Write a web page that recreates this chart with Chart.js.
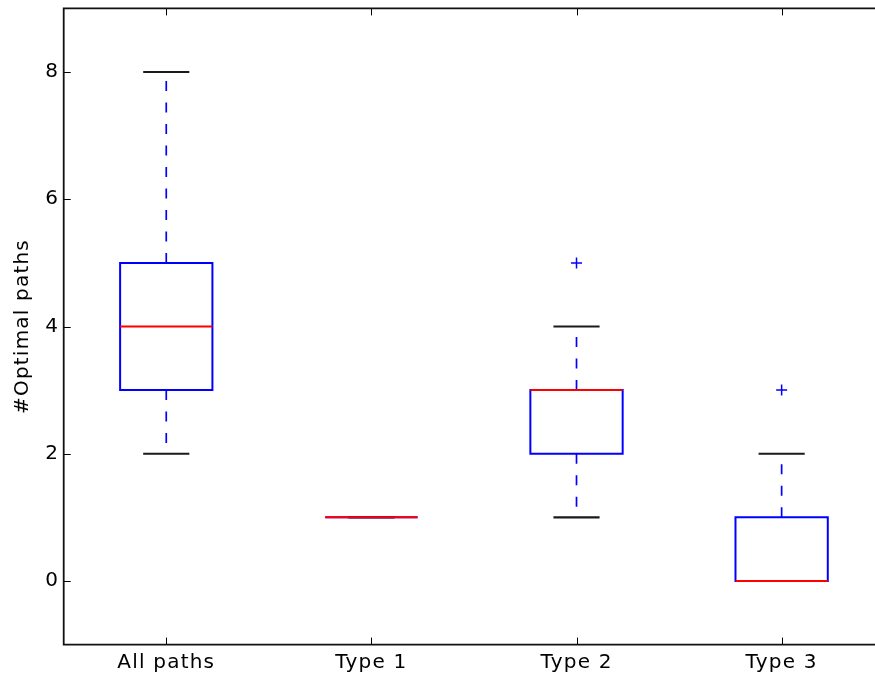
<!DOCTYPE html>
<html>
<head>
<meta charset="utf-8">
<script src="https://cdn.jsdelivr.net/npm/chart.js@4/dist/chart.umd.min.js"></script>
<style>
  html, body { margin: 0; padding: 0; background: #fff; overflow: hidden; }
  #wrap { width: 900px; height: 680px; position: relative; }
</style>
</head>
<body>
<div id="wrap"><canvas id="c"></canvas></div>
<script>
// Box-plot summary per group
const categories  = ['All paths', 'Type 1', 'Type 2', 'Type 3'];
const whiskerLow  = [2, 1, 1, 0];
const q1          = [3, 1, 2, 0];
const medians     = [4, 1, 3, 0];
const q3          = [5, 1, 3, 1];
const whiskerHigh = [8, 1, 4, 2];
// Fliers: group position (1-based) and value
const flierGroup  = [3, 4];
const flierValue  = [5, 3];
const yTicks      = [0, 2, 4, 6, 8];

const BOX_WIDTH = 0.45;
const CAP_WIDTH = BOX_WIDTH / 2;
const FONT = { family: 'DejaVu Sans', size: 20 };

// Box, whiskers, caps and medians drawn through the chart scales
const boxPlotPlugin = {
  id: 'boxPlot',
  beforeDraw(chart) {
    chart.ctx.letterSpacing = '1.2px';
  },
  beforeDatasetsDraw(chart) {
    const { ctx, chartArea: a, scales: { x, y } } = chart;
    ctx.save();
    ctx.beginPath();
    ctx.rect(a.left, a.top, a.right - a.left, a.bottom - a.top);
    ctx.clip();
    ctx.lineCap = 'butt';
    categories.forEach((_, i) => {
      const pos = i + 1;
      const xc = x.getPixelForValue(pos);
      const xb0 = x.getPixelForValue(pos - BOX_WIDTH / 2);
      const xb1 = x.getPixelForValue(pos + BOX_WIDTH / 2);
      const xc0 = x.getPixelForValue(pos - CAP_WIDTH / 2);
      const xc1 = x.getPixelForValue(pos + CAP_WIDTH / 2);
      const yLo = y.getPixelForValue(whiskerLow[i]);
      const yQ1 = y.getPixelForValue(q1[i]);
      const yMed = y.getPixelForValue(medians[i]);
      const yQ3 = y.getPixelForValue(q3[i]);
      const yHi = y.getPixelForValue(whiskerHigh[i]);

      // whiskers (dashed, drawn outward from the box)
      ctx.strokeStyle = '#0000ff';
      ctx.lineWidth = 1.7;
      ctx.setLineDash([10, 11.5]);
      ctx.beginPath();
      ctx.moveTo(xc, yQ1); ctx.lineTo(xc, yLo);
      ctx.moveTo(xc, yQ3); ctx.lineTo(xc, yHi);
      ctx.stroke();
      ctx.setLineDash([]);

      // caps
      ctx.strokeStyle = '#1a1a1a';
      ctx.lineWidth = 2.2;
      ctx.beginPath();
      ctx.moveTo(xc0, yLo); ctx.lineTo(xc1, yLo);
      ctx.moveTo(xc0, yHi); ctx.lineTo(xc1, yHi);
      ctx.stroke();

      // box
      ctx.strokeStyle = '#0000ff';
      ctx.lineWidth = 2;
      ctx.beginPath();
      ctx.rect(xb0, yQ3, xb1 - xb0, yQ1 - yQ3);
      ctx.stroke();

      // median
      ctx.strokeStyle = '#ff0000';
      ctx.lineWidth = 2;
      ctx.beginPath();
      ctx.moveTo(xb0, yMed); ctx.lineTo(xb1, yMed);
      ctx.stroke();
    });
    ctx.restore();
  },
  afterDatasetsDraw(chart) {
    const { ctx, chartArea: a, scales: { x, y } } = chart;
    ctx.save();
    ctx.strokeStyle = '#000';
    // inward tick marks
    ctx.lineWidth = 1;
    ctx.beginPath();
    yTicks.forEach(v => {
      const py = Math.round(y.getPixelForValue(v)) + 0.5;
      ctx.moveTo(a.left, py); ctx.lineTo(a.left + 7, py);
    });
    categories.forEach((_, i) => {
      const px = Math.round(x.getPixelForValue(i + 1)) + 0.5;
      ctx.moveTo(px, a.bottom); ctx.lineTo(px, a.bottom - 7);
      ctx.moveTo(px, a.top); ctx.lineTo(px, a.top + 7);
    });
    ctx.stroke();
    // axes frame (left, top, bottom)
    ctx.strokeStyle = '#111';
    ctx.lineWidth = 1.8;
    ctx.beginPath();
    ctx.moveTo(a.right + 2, a.top);
    ctx.lineTo(a.left, a.top);
    ctx.lineTo(a.left, a.bottom);
    ctx.lineTo(a.right + 2, a.bottom);
    ctx.stroke();
    ctx.restore();
  }
};

// keep the plot area exactly where the layout padding puts it
const noScalePadding = s => {
  s.paddingTop = 0; s.paddingBottom = 0; s.paddingLeft = 0; s.paddingRight = 0;
};

new Chart(document.getElementById('c'), {
  type: 'scatter',
  data: {
    datasets: [{
      label: 'fliers',
      data: flierGroup.map((g, i) => ({ x: g, y: flierValue[i] })),
      pointStyle: 'cross',
      pointRadius: 5.5,
      pointHoverRadius: 5.5,
      borderColor: '#0000ff',
      backgroundColor: '#0000ff',
      borderWidth: 1.5
    }]
  },
  options: {
    responsive: true,
    maintainAspectRatio: false,
    animation: false,
    events: [],
    layout: { padding: { left: 0, right: 15.8, top: 8.4, bottom: 0 } },
    plugins: { legend: { display: false }, tooltip: { enabled: false } },
    scales: {
      x: {
        type: 'linear',
        min: 0.5,
        max: 4.5,
        grid: { display: false, drawTicks: false },
        border: { display: false },
        afterBuildTicks: s => { s.ticks = categories.map((_, i) => ({ value: i + 1 })); },
        afterFit: s => { s.height = 35.4; noScalePadding(s); },
        ticks: {
          autoSkip: false,
          maxRotation: 0,
          padding: 6,
          color: '#000',
          font: FONT,
          callback: v => categories[Math.round(v) - 1]
        }
      },
      y: {
        min: -1,
        max: 9,
        grid: { display: false, drawTicks: false },
        border: { display: false },
        afterBuildTicks: s => { s.ticks = yTicks.map(v => ({ value: v })); },
        afterFit: s => { s.width = 63.7; noScalePadding(s); },
        ticks: { padding: 4.5, color: '#000', font: FONT },
        title: {
          display: true,
          text: '#Optimal paths',
          color: '#000',
          font: FONT,
          padding: { top: 11, bottom: 0 }
        }
      }
    }
  },
  plugins: [boxPlotPlugin]
});
</script>
</body>
</html>
